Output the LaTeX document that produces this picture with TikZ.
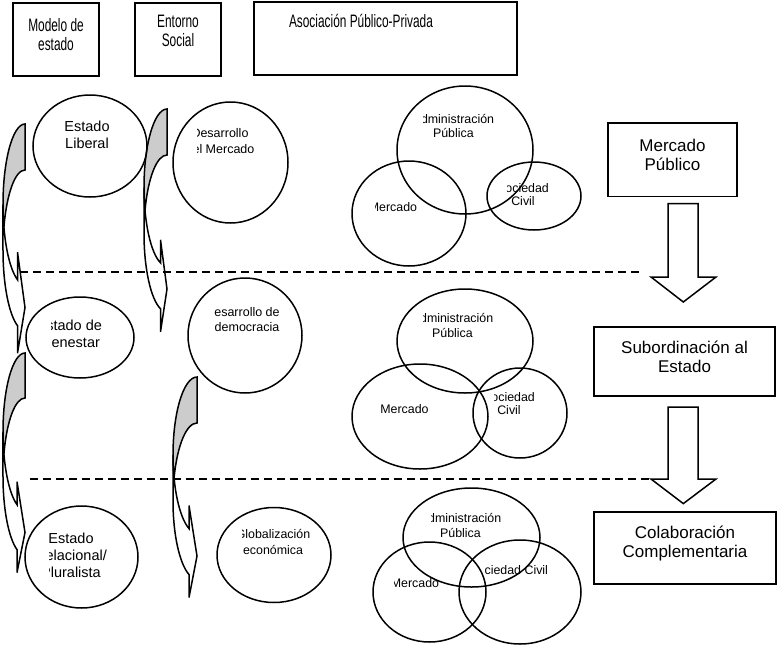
\documentclass[tikz,border=0pt]{standalone}
\usepackage{fontspec}
\setmainfont{Liberation Sans}
\newfontfamily\condfont[FakeStretch=0.66]{Liberation Sans}
\usetikzlibrary{shapes.geometric}
\definecolor{shadegray}{gray}{0.8}
% curved ribbon arrow: l r t b thickness arrowwidth arrowlength
\newcommand\crvarrow[7]{%
  \pgfmathsetmacro\CAw{#2-#1}%
  \pgfmathsetmacro\CAhR{(#4-#3)/2-(#5+#6)/4}%
  \pgfmathsetmacro\CAcyA{#3+\CAhR}%
  \pgfmathsetmacro\CAcyB{#3+\CAhR+#5}%
  \pgfmathsetmacro\CAphi{acos(#7/\CAw)}%
  \pgfmathsetmacro\CAdy{\CAhR*sin(\CAphi)}%
  \pgfmathsetmacro\CAxa{#2-#7}%
  \pgfmathsetmacro\CAdh{(#6-#5)/2}%
  \pgfmathsetmacro\CAyf{\CAcyA+\CAdy-\CAdh}%
  \pgfmathsetmacro\CAyg{\CAcyB+\CAdy+\CAdh}%
  \pgfmathsetmacro\CAys{\CAcyB+\CAdy}%
  \pgfmathsetmacro\CAtip{#4-#6/2}%
  \pgfmathsetmacro\CAend{180-\CAphi}%
  \pgfmathsetmacro\CAbeta{asin(#5/(2*\CAhR))}%
  \pgfmathsetmacro\CAbs{180+\CAbeta}%
  \pgfmathsetmacro\CAas{180-\CAbeta}%
  \draw[fill=white] (#1,\CAcyA) arc[start angle=180,end angle=\CAend,x radius=\CAw,y radius=\CAhR]
     -- (\CAxa,\CAyf) -- (#2,\CAtip) -- (\CAxa,\CAyg) -- (\CAxa,\CAys)
     arc[start angle=\CAend,end angle=180,x radius=\CAw,y radius=\CAhR] -- cycle;
  \draw[fill=shadegray] (#2,#3+#5) arc[start angle=270,end angle=\CAbs,x radius=\CAw,y radius=\CAhR]
     arc[start angle=\CAas,end angle=270,x radius=\CAw,y radius=\CAhR] -- cycle;
}
\begin{document}
\begin{tikzpicture}[x=1pt,y=-1pt,line width=1.5pt,
  box/.style={draw,rectangle,inner sep=0pt},
  oval/.style={draw,ellipse,inner sep=0pt},
  htext/.style={font=\condfont\fontsize{18}{19}\selectfont,align=center,inner sep=0pt},
  rtext/.style={font=\fontsize{17}{19.5}\selectfont,align=center,inner sep=0pt},
  ctext/.style={font=\fontsize{14.5}{17}\selectfont,align=center,inner sep=0pt},
  vtext/.style={font=\fontsize{12.4}{14.5}\selectfont,align=center,inner sep=0pt},
  dashline/.style={line width=2pt,dash pattern=on 8pt off 5pt},
  blockarrow/.style={draw,fill=white,line join=miter}]
\useasboundingbox (0,0) rectangle (782,646);

% header boxes
\node[box,minimum width=86pt,minimum height=73pt] (h1) at (56,39.5) {};
\node[box,minimum width=86pt,minimum height=73pt] (h2) at (178,39.5) {};
\node[box,minimum width=263pt,minimum height=73pt] (h3) at (385.5,38.5) {};
\node[htext] (h1t) at (56,35) {Modelo de\\estado};
\node[htext] (h2t) at (178,30.5) {Entorno\\Social};
\node[htext] (h3t) at (361,21) {Asociación Público-Privada};

% curved arrows
\crvarrow{3}{25}{124}{358}{46}{101}{7.5}
\crvarrow{3}{25}{353}{578}{45}{91}{8}
\crvarrow{144}{167}{109}{335}{46}{92}{6.5}
\crvarrow{173}{197}{377}{602}{46}{92}{8}

% column 1 ellipses
\node[oval,minimum width=114pt,minimum height=102pt] (e11) at (90,146) {};
\node[oval,minimum width=108pt,minimum height=81pt] (e12) at (80,337.5) {};
\node[oval,minimum width=113pt,minimum height=102pt] (e13) at (81.5,557) {};
\node[ctext] (e11t) at (87,135) {Estado\\Liberal};
\begin{scope}
\clip (51,300) rectangle (130,375);
\node[ctext] (e12t) at (69.3,334) {Estado de\\Bienestar};
\end{scope}
\begin{scope}
\clip (49.5,515) rectangle (135,600);
\node[ctext] (e13t) at (71,555.5) {Estado\\Relacional/\\Pluralista};
\end{scope}

% column 2 ellipses
\node[oval,minimum width=115pt,minimum height=121pt] (e21) at (230.5,162.5) {};
\node[oval,minimum width=114pt,minimum height=115pt] (e22) at (245,335.5) {};
\node[oval,minimum width=114pt,minimum height=95pt] (e23) at (274,555) {};
\begin{scope}
\clip (197,110) rectangle (285,215);
\node[vtext,font=\fontsize{12.5}{16}\selectfont] (e21t) at (220,141) {Desarrollo\\del Mercado};
\end{scope}
\node[vtext,font=\fontsize{12.5}{15}\selectfont] (e22t) at (247,319.5) {esarrollo de\\democracia};
\begin{scope}
\clip (242,510) rectangle (330,600);
\node[vtext,font=\fontsize{12.4}{16}\selectfont] (e23t) at (273,542) {Globalización\\económica};
\end{scope}

% Venn 1
\node[oval,minimum width=136pt,minimum height=128pt] (a1) at (465,150) {};
\node[oval,minimum width=114pt,minimum height=105pt] (m1) at (409,213.5) {};
\node[oval,minimum width=94pt,minimum height=68pt] (s1) at (534,196) {};
\begin{scope}
\clip (423,100) rectangle (520,145);
\node[vtext] (a1t) at (453.4,126) {Administración\\Pública};
\end{scope}
\begin{scope}
\clip (375.5,195) rectangle (440,220);
\node[vtext] (m1t) at (393,207) {Mercado};
\end{scope}
\begin{scope}
\clip (507,175) rectangle (575,215);
\node[vtext,font=\fontsize{12.4}{13.5}\selectfont] (s1t) at (523,194.5) {Sociedad\\Civil};
\end{scope}

% Venn 2
\node[oval,minimum width=136pt,minimum height=104pt] (a2) at (465,341) {};
\node[oval,minimum width=136pt,minimum height=105pt] (m2) at (420,416.5) {};
\node[oval,minimum width=94pt,minimum height=90pt] (s2) at (520,413) {};
\begin{scope}
\clip (423,300) rectangle (520,345);
\node[vtext] (a2t) at (452.5,325.5) {Administración\\Pública};
\end{scope}
\node[vtext] (m2t) at (404.5,409) {Mercado};
\begin{scope}
\clip (494,385) rectangle (560,425);
\node[vtext,font=\fontsize{12.4}{13}\selectfont] (s2t) at (509,404) {Sociedad\\Civil};
\end{scope}

% Venn 3
\node[oval,minimum width=137pt,minimum height=99pt] (a3) at (471.5,537.5) {};
\node[oval,minimum width=113pt,minimum height=100pt] (m3) at (429.5,592) {};
\node[oval,minimum width=122pt,minimum height=104pt] (s3) at (520,592) {};
\begin{scope}
\clip (431,500) rectangle (530,545);
\node[vtext] (a3t) at (460.5,525.5) {Administración\\Pública};
\end{scope}
\begin{scope}
\clip (394.5,570) rectangle (460,595);
\node[vtext] (m3t) at (415,583) {Mercado};
\end{scope}
\begin{scope}
\clip (484.5,558) rectangle (570,582);
\node[vtext] (s3t) at (508.7,570) {Sociedad Civil};
\end{scope}

% right column
\node[box,minimum width=129pt,minimum height=73.5pt] (r1) at (672.5,159.75) {};
\node[box,minimum width=181pt,minimum height=69pt] (r2) at (684.5,361.5) {};
\node[box,minimum width=182pt,minimum height=72pt] (r3) at (685,548) {};
\node[rtext] (r1t) at (672.5,155) {Mercado\\Público};
\node[rtext] (r2t) at (684.5,357) {Subordinación al\\Estado};
\node[rtext] (r3t) at (685,543.5) {Colaboración\\Complementaria};

\draw[blockarrow] (668,203.6) -- (698,203.6) -- (698,277) -- (716,277) -- (683.3,302) -- (651,277) -- (668,277) -- cycle;
\draw[blockarrow] (668,407) -- (698,407) -- (698,479) -- (716,479) -- (683.3,503.6) -- (651,479) -- (668,479) -- cycle;

% dashed separators
\coordinate (d1s) at (20,272);
\coordinate (d1e) at (640,272);
\coordinate (d2s) at (30,479);
\coordinate (d2e) at (651,479);
\draw[dashline] (d1s) -- (d1e);
\draw[dashline] (d2s) -- (d2e);
\end{tikzpicture}
\end{document}
